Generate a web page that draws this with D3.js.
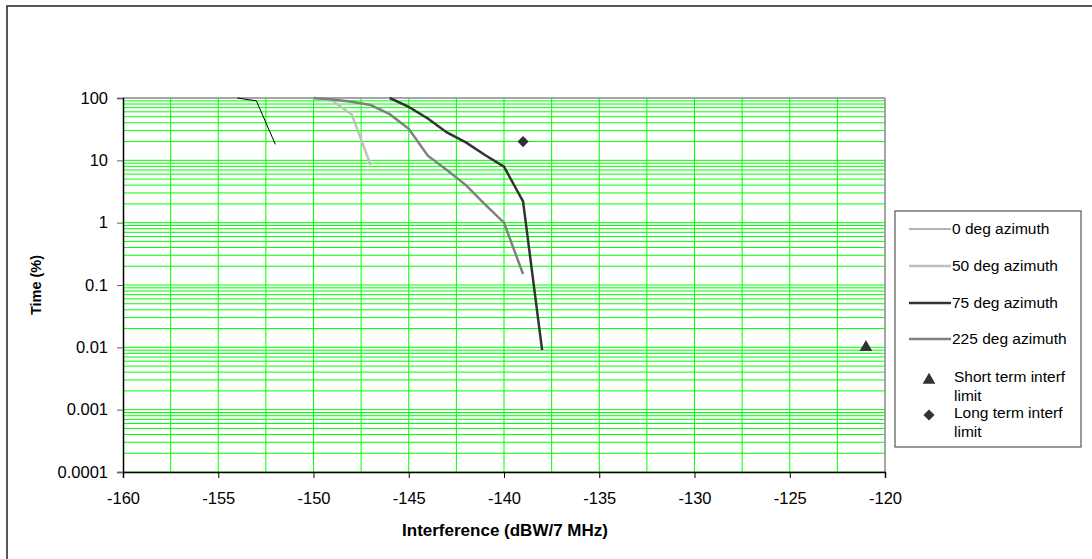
<!DOCTYPE html>
<html><head><meta charset="utf-8">
<script src="https://cdn.jsdelivr.net/npm/d3@7"></script>
<style>body{margin:0;background:#fff}svg{display:block}text{font-family:"Liberation Sans",Arial,sans-serif}</style>
</head><body><svg id="c" width="1092" height="559"></svg>
<script>
const xTicks=[-160,-155,-150,-145,-140,-135,-130,-125,-120];
const yTicks=[0.0001,0.001,0.01,0.1,1,10,100];
const yTickLabels=["0.0001","0.001","0.01","0.1","1","10","100"];
const az0=[[-154,100],[-153,90],[-152,18]];
const az50=[[-150,100],[-149,90],[-148,55],[-147,8.4]];
const az75=[[-146,100],[-145,72],[-144,47],[-143,28],[-142,19.4],[-141,12.2],[-140,7.9],[-139,2.2],[-138,0.009]];
const az225=[[-150,100],[-149,95],[-148,87],[-147,77],[-146,55],[-145,32],[-144,11.9],[-143,7.0],[-142,4.0],[-141,1.97],[-140,1.0],[-139,0.15]];
const shortTerm=[[-121,0.01]];
const longTerm=[[-139,20]];
const seriesNames=["0 deg azimuth","50 deg azimuth","75 deg azimuth","225 deg azimuth"];

const svg=d3.select("#c");
const L=123,R=885,T=98,B=472;
const x=d3.scaleLinear().domain([-160,-120]).range([L,R]);
const y=d3.scaleLog().domain([0.0001,100]).range([B,T]);

svg.append("rect").attr("x",7).attr("y",6).attr("width",1200).attr("height",700).attr("fill","none").attr("stroke","#222").attr("stroke-width",1.5);

const g=svg.append("g");
d3.range(-157.5,-120,2.5).forEach(v=>{
  g.append("line").attr("x1",x(v)).attr("x2",x(v)).attr("y1",T).attr("y2",B).attr("stroke","#00ff00").attr("stroke-width",1);
});
const hv=[];
for(let e=-4;e<2;e++){for(let m=1;m<10;m++){hv.push(m*Math.pow(10,e));}}
hv.forEach(v=>{ if(y(v)>T+0.5) g.append("line").attr("x1",L).attr("x2",R).attr("y1",y(v)).attr("y2",y(v)).attr("stroke","#00ff00").attr("stroke-width",1);});
g.append("line").attr("x1",L).attr("x2",R).attr("y1",T).attr("y2",T).attr("stroke","#888").attr("stroke-width",1.5);
g.append("line").attr("x1",R).attr("x2",R).attr("y1",T).attr("y2",B).attr("stroke","#888").attr("stroke-width",1.5);

const xAxis=d3.axisBottom(x).tickValues(xTicks).tickSize(6).tickPadding(14).tickFormat(d=>d);
const xa=svg.append("g").attr("transform",`translate(0,${B})`).call(xAxis);
xa.select(".domain").attr("stroke","#000").attr("stroke-width",1.5);
xa.selectAll(".tick line").attr("stroke","#000");
xa.selectAll("text").attr("font-size",16.5).attr("fill","#000").attr("font-family","Liberation Sans, Arial, sans-serif");
const yAxis=d3.axisLeft(y).tickValues(yTicks).tickSize(6).tickPadding(9).tickFormat((d,i)=>yTickLabels[i]);
const ya=svg.append("g").attr("transform",`translate(${L},0)`).call(yAxis);
ya.select(".domain").attr("stroke","#000").attr("stroke-width",1.5);
ya.selectAll(".tick line").attr("stroke","#666");
ya.selectAll("text").attr("font-size",16.5).attr("fill","#000").attr("font-family","Liberation Sans, Arial, sans-serif");

svg.append("text").attr("x",505).attr("y",536).attr("text-anchor","middle").attr("font-weight","bold").attr("font-size",17).text("Interference (dBW/7 MHz)");
svg.append("text").attr("transform","translate(41,285) rotate(-90)").attr("text-anchor","middle").attr("font-weight","bold").attr("font-size",14.5).text("Time (%)");

const line=d3.line().x(d=>x(d[0])).y(d=>y(d[1]));
const styles=[{c:"#000",w:1},{c:"#c0c0c0",w:2.5},{c:"#333",w:2.5},{c:"#808080",w:2.5}];
[az0,az50,az75,az225].forEach((s,i)=>{
  svg.append("path").datum(s).attr("d",line).attr("fill","none").attr("stroke",styles[i].c).attr("stroke-width",styles[i].w).attr("stroke-linejoin","miter");
});
const tri=d3.symbol().type(d3.symbolTriangle).size(70);
const sq=d3.symbol().type(d3.symbolSquare).size(62);
shortTerm.forEach(d=>svg.append("path").attr("d",tri).attr("transform",`translate(${x(d[0])},${y(d[1])})`).attr("fill","#333"));
longTerm.forEach(d=>svg.append("path").attr("d",sq).attr("transform",`translate(${x(d[0])},${y(d[1])}) rotate(45)`).attr("fill","#333"));

const lg=svg.append("g");
lg.append("rect").attr("x",895).attr("y",211).attr("width",186).attr("height",236).attr("fill","#fff").attr("stroke","#555").attr("stroke-width",1.2);
const ly=[229,266,303,339];
seriesNames.forEach((n,i)=>{
  lg.append("line").attr("x1",909).attr("x2",951).attr("y1",ly[i]).attr("y2",ly[i]).attr("stroke",i===0?"#666":styles[i].c).attr("stroke-width",styles[i].w);
  lg.append("text").attr("x",952).attr("y",ly[i]).attr("dy","0.35em").attr("font-size",15.5).text(n);
});
lg.append("path").attr("d",tri).attr("transform","translate(929,380)").attr("fill","#333");
lg.append("path").attr("d",sq).attr("transform","translate(929,415) rotate(45)").attr("fill","#333");
[["Short term interf",377],["limit",396],["Long term interf",413],["limit",432]].forEach(d=>{
  lg.append("text").attr("x",954).attr("y",d[1]).attr("dy","0.35em").attr("font-size",15.5).text(d[0]);
});
</script></body></html>
